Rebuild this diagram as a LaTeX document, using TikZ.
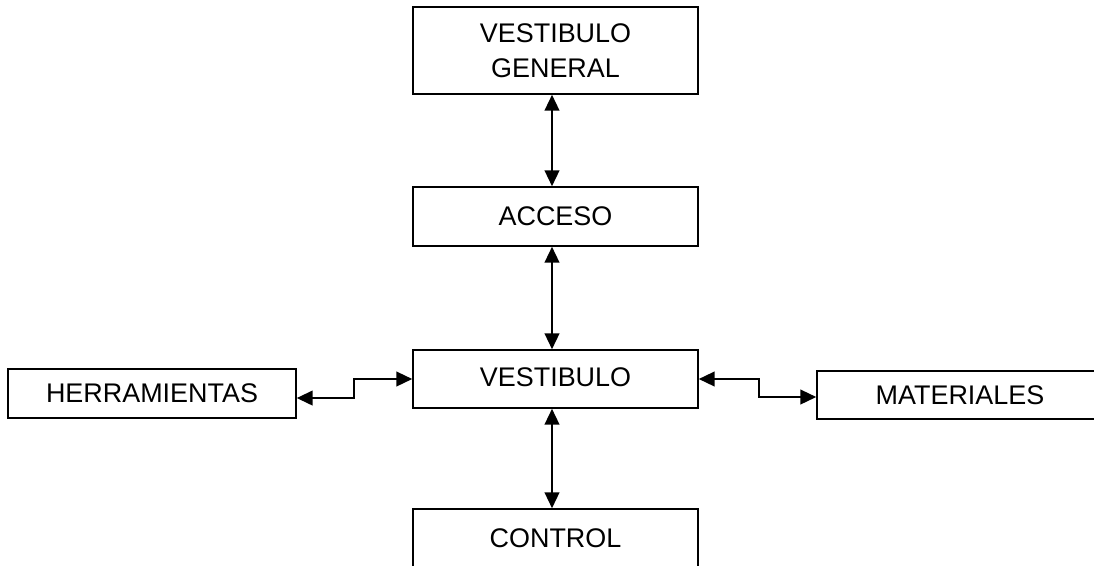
\documentclass[tikz,border=0pt]{standalone}
\usepackage{fontspec}
\setmainfont{Liberation Sans}
\usetikzlibrary{arrows.meta}
\begin{document}
\begin{tikzpicture}[x=0.75pt,y=-0.75pt,
  box/.style={draw, line width=1.1pt, rectangle, inner sep=0pt,
    minimum width=285*0.75pt, align=center,
    font=\fontsize{20.2}{26.25}\selectfont},
  conn/.style={line width=1.7pt,
    {Triangle[length=12pt,width=11pt]}-{Triangle[length=12pt,width=11pt]}}]
\useasboundingbox (0,0) rectangle (1094,565);
\clip (0,0) rectangle (1094,565);
% boxes
\node[box, minimum height=87*0.75pt] (vg) at (555.5,50.5) {VESTIBULO\\GENERAL};
\node[box, minimum height=59*0.75pt] (acc) at (555.5,216.5) {ACCESO};
\node[box, minimum height=58*0.75pt] (vest) at (555.5,379) {\raisebox{3pt}{VESTIBULO}};
\node[box, minimum height=49*0.75pt, minimum width=288*0.75pt] (herr) at (152,393.5) {HERRAMIENTAS};
\node[box, minimum height=48*0.75pt, minimum width=286*0.75pt] (mat) at (960,395) {MATERIALES};
\node[box, minimum height=59*0.75pt] (ctrl) at (555.5,538.5) {CONTROL};
% vertical axis of the connectors
\coordinate (ax) at (552,0);
\draw[conn] (vg.south -| ax) -- (acc.north -| ax);
\draw[conn] (acc.south -| ax) -- (vest.north -| ax);
\draw[conn] (vest.south -| ax) -- (ctrl.north -| ax);
% side connectors with a step
\draw[conn] ([yshift=-3.4pt]herr.east) -- ++(57,0) |- (vest.west);
\draw[conn] (vest.east) -- ++(60,0) |- ([yshift=-1.5pt]mat.west);
\end{tikzpicture}
\end{document}
